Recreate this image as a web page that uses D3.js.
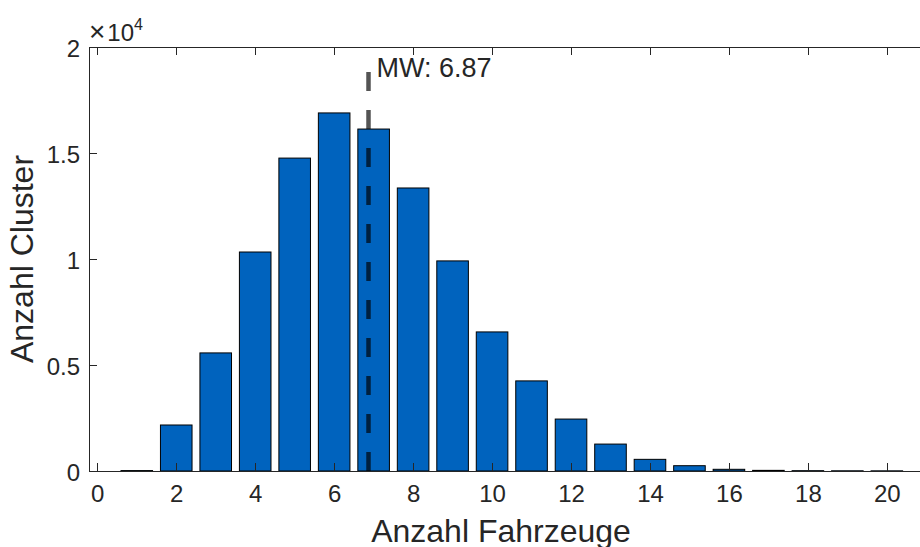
<!DOCTYPE html>
<html lang="de">
    <head>
        <meta charset="utf-8">
        <title>Anzahl Fahrzeuge je Cluster</title>
        <script type="text/javascript" src="https://cdn.jsdelivr.net/npm/d3@7"></script>
        <style type="text/css">
            body { margin: 0; background: #fff; }
            svg { display: block; }
            .axis path,
            .axis line {
                stroke: #262626;
                stroke-width: 1;
                shape-rendering: crispEdges;
            }
            .axis text {
                font-family: "Liberation Sans", Arial, Helvetica, sans-serif;
                font-size: 24px;
                fill: #262626;
            }
            .lbl {
                font-family: "Liberation Sans", Arial, Helvetica, sans-serif;
                fill: #262626;
            }
        </style>
    </head>
    <body>
        <script type="text/javascript">
            var w = 920;
            var h = 547;

            // data
            var fahrzeuge = [1, 2, 3, 4, 5, 6, 7, 8, 9, 10, 11, 12, 13, 14, 15, 16, 17, 18, 19, 20];
            var cluster = [20, 2170, 5570, 10330, 14760, 16890, 16130, 13350, 9910, 6560,
                           4250, 2450, 1270, 550, 250, 80, 30, 15, 10, 8];
            var xTicks = [0, 2, 4, 6, 8, 10, 12, 14, 16, 18, 20];
            var yTicks = [0, 5000, 10000, 15000, 20000];
            var yTickLabels = ["0", "0.5", "1", "1.5", "2"];
            var mittelwert = 6.87;
            var mwLinieTop = 19070;

            // plot box (note: "top" is taken by window.top)
            var boxLeft = 89, boxRight = 920, boxTop = 47, boxBottom = 471;

            var xScale = d3.scaleLinear().domain([-0.21, 20.84]).range([boxLeft, boxRight]);
            var yScale = d3.scaleLinear().domain([0, 20000]).range([boxBottom, boxTop]);

            var svg = d3.select("body")
                        .append("svg")
                        .attr("width", w)
                        .attr("height", h);

            // bars (width 0.8 like matlab)
            svg.selectAll("rect.bar")
                .data(fahrzeuge)
                .enter()
                .append("rect")
                .attr("class", "bar")
                .attr("x", function(d){ return xScale(d - 0.4); })
                .attr("width", function(d){ return xScale(d + 0.4) - xScale(d - 0.4); })
                .attr("y", function(d, i){ return yScale(cluster[i]); })
                .attr("height", function(d, i){ return yScale(0) - yScale(cluster[i]); })
                .attr("fill", "#0063BE")
                .attr("stroke", "#000")
                .attr("stroke-width", 1);

            // mean line
            svg.append("line")
                .attr("x1", xScale(mittelwert))
                .attr("x2", xScale(mittelwert))
                .attr("y1", yScale(0))
                .attr("y2", yScale(mwLinieTop))
                .attr("stroke", "#000")
                .attr("stroke-opacity", 0.67)
                .attr("stroke-width", 4.5)
                .attr("stroke-dasharray", "19,19");

            svg.append("text")
                .attr("class", "lbl")
                .attr("x", xScale(mittelwert) + 8)
                .attr("y", 77)
                .style("font-size", "27px")
                .text("MW: " + mittelwert.toFixed(2));

            // axes, ticks point inward
            var xAxis = d3.axisBottom(xScale).tickValues(xTicks)
                            .tickSizeInner(-8).tickSizeOuter(0).tickPadding(16);
            var xAxisTop = d3.axisTop(xScale).tickValues(xTicks)
                            .tickSizeInner(-8).tickSizeOuter(0).tickFormat("");
            var yAxis = d3.axisLeft(yScale).tickValues(yTicks)
                            .tickSizeInner(-8).tickSizeOuter(0).tickPadding(9)
                            .tickFormat(function(d, i){ return yTickLabels[i]; });

            var gx = svg.append("g")
                .attr("class", "x axis")
                .attr("transform", "translate(0," + boxBottom + ")")
                .call(xAxis);
            gx.selectAll("text").attr("dy", "0.62em");

            svg.append("g")
                .attr("class", "x axis top")
                .attr("transform", "translate(0," + boxTop + ")")
                .call(xAxisTop);

            var gy = svg.append("g")
                .attr("class", "y axis")
                .attr("transform", "translate(" + boxLeft + ",0)")
                .call(yAxis);
            gy.selectAll("text").attr("dy", "0.4em");

            // exponent label, bigger thin "x" like matlab
            var expo = svg.append("text")
                .attr("class", "lbl")
                .attr("x", 89)
                .attr("y", 41)
                .style("font-size", "24px");
            expo.append("tspan")
                .style("font-size", "28px")
                .style("font-weight", "300")
                .text("\u00d7");
            expo.append("tspan")
                .attr("dx", 2)
                .text("10");
            expo.append("tspan")
                .attr("dy", -11)
                .style("font-size", "16px")
                .text("4");

            // axis titles
            svg.append("text")
                .attr("class", "lbl")
                .attr("text-anchor", "middle")
                .attr("x", 501)
                .attr("y", 542)
                .style("font-size", "32px")
                .text("Anzahl Fahrzeuge");

            svg.append("text")
                .attr("class", "lbl")
                .attr("text-anchor", "middle")
                .attr("transform", "translate(33," + ((boxTop + boxBottom) / 2) + ") rotate(-90)")
                .style("font-size", "32px")
                .text("Anzahl Cluster");
        </script>
    </body>
</html>
